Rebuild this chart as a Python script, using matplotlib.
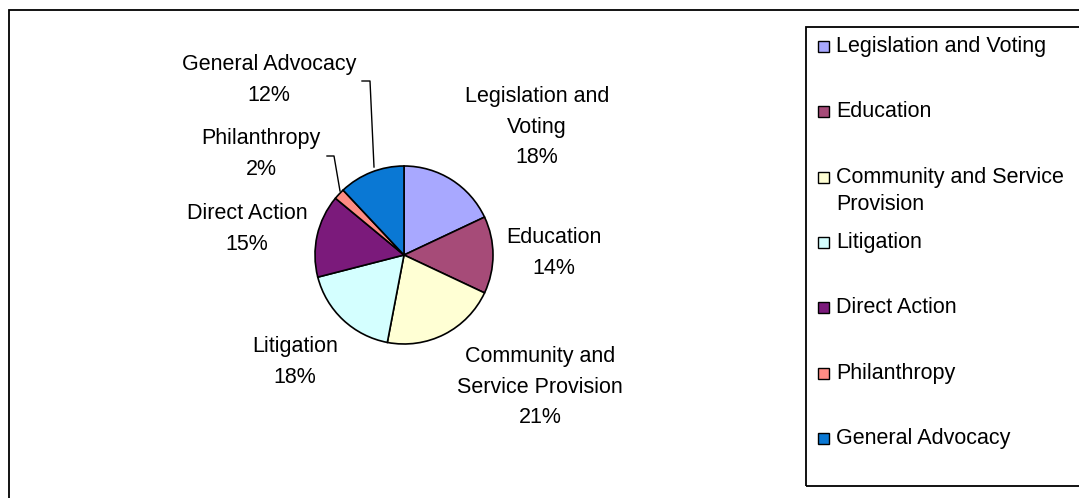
import matplotlib.pyplot as plt
from matplotlib.patches import Rectangle

plt.rcParams['font.family'] = ['Liberation Sans', 'DejaVu Sans']

categories = ["Legislation and Voting", "Education", "Community and Service Provision",
              "Litigation", "Direct Action", "Philanthropy", "General Advocacy"]
values = [18, 14, 21, 18, 15, 2, 12]
colors = ["#A8A8FF", "#A64B78", "#FFFFD4", "#D4FFFF", "#7B1A7B", "#FF8C84", "#0A78D4"]

# label text as it is wrapped on the chart, and where it sits (pixels)
label_text = ["Legislation and\nVoting", "Education", "Community and\nService Provision",
              "Litigation", "Direct Action", "Philanthropy", "General Advocacy"]
label_pos = [(537, 127), (554, 253), (540, 387), (295, 362), (247, 229), (261, 154), (269, 80)]
legend_text = ["Legislation and Voting", "Education", "Community and Service\nProvision",
               "Litigation", "Direct Action", "Philanthropy", "General Advocacy"]
legend_y = [46, 111, 177, 242, 307, 373, 438]

W, H = 1079, 498
fig = plt.figure(figsize=(W / 100, H / 100), dpi=100)
ax = fig.add_axes([0, 0, 1, 1])

def py(y):
    return H - y

# outer frame and legend box
ax.add_patch(Rectangle((9, -10), W, py(10) + 10, fill=False, lw=1.3, ec='black'))
ax.add_patch(Rectangle((806, py(486)), 300, 486 - 27, fill=False, lw=1.3, ec='black'))

ax.pie(values, colors=colors, startangle=90, counterclock=False,
       center=(404, py(255)), radius=89, frame=True,
       wedgeprops=dict(edgecolor='black', linewidth=1.2))
ax.set_xlim(0, W)
ax.set_ylim(0, H)
ax.set_aspect('equal')
ax.axis('off')

fs = 15.5
for txt, v, (x, y) in zip(label_text, values, label_pos):
    ax.text(x, py(y), f"{txt}\n{v}%", ha='center', va='center', fontsize=fs,
            linespacing=1.6, color='black')

# leader lines for the two small slices
ax.plot([362, 370, 374], [py(81), py(81), py(167)], color='black', lw=1)
ax.plot([327, 334, 340], [py(156), py(156), py(191)], color='black', lw=1)

for txt, c, y in zip(legend_text, colors, legend_y):
    ax.add_patch(Rectangle((818, py(y) - 5.5), 11, 11, fc=c, ec='black', lw=1))
    for i, line in enumerate(txt.split("\n")):
        ax.text(836, py(y + 27 * i), line, ha='left', va='center', fontsize=fs)

fig.savefig("out.png", dpi=100)
